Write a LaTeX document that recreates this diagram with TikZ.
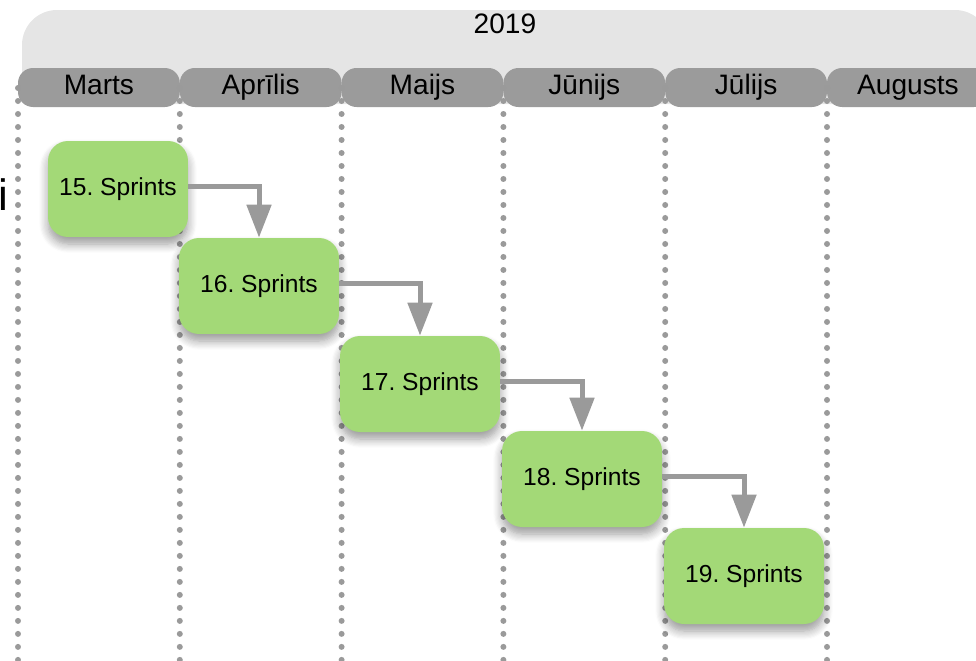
\documentclass[tikz,border=0pt]{standalone}
\usepackage{fontspec}
\setmainfont{Liberation Sans}
\usepackage{xcolor}
\usetikzlibrary{arrows.meta,shadows.blur}

\definecolor{hdrgray}{HTML}{E5E5E5}
\definecolor{pillgray}{HTML}{9B9B9B}
\definecolor{dotgray}{HTML}{9A9A9A}
\definecolor{sprintgreen}{HTML}{A3D977}
\frenchspacing

\tikzset{
  month/.style={fill=pillgray, rounded corners=0.3cm, minimum width=3.236cm,
    minimum height=0.78cm, inner sep=0pt, text height=11.5pt, text depth=3.5pt,
    font=\fontsize{16}{18}\selectfont},
  sprint/.style={fill=sprintgreen, rounded corners=0.4cm, minimum width=3.2cm,
    minimum height=1.92cm, inner sep=0pt, font=\fontsize{14}{16}\selectfont,
    blur shadow={shadow xshift=0pt, shadow yshift=-4pt, shadow blur radius=5pt,
      shadow blur steps=8, shadow opacity=40}},
  flow/.style={draw=dotgray, line width=0.1cm, -{Triangle[length=0.66cm,width=0.48cm]}},
  dots/.style={draw=dotgray, line width=0.12cm, line cap=round, dash pattern=on 0pt off 0.26cm}
}

\begin{document}
\begin{tikzpicture}[x=0.02cm, y=-0.02cm]
  \useasboundingbox (0,0) rectangle (976,660);
  % galva
  \fill[hdrgray, rounded corners=0.7cm] (22,10) rectangle (990,104);
  \node (gads) at (505,24) {\fontsize{16}{18}\selectfont 2019};
  % mēneši
  \foreach \i/\m in {0/Marts,1/Aprīlis,2/Maijs,3/Jūnijs,4/Jūlijs,5/Augusts}
    \node[month] (m\i) at (18+161.8*\i+80.9,87.5) {\m};
  \foreach \i in {0,...,5}
    \draw[dots] (18+161.8*\i,88) -- (18+161.8*\i,664);
  \node[anchor=base, inner sep=0pt] (burts) at (3,210) {\fontsize{25}{28}\selectfont i};
  % sprinti
  \node[sprint, minimum width=2.8cm] (s15) at (118,189) {15. Sprints};
  \node[sprint] (s16) at (259,286) {16. Sprints};
  \node[sprint] (s17) at (420,384) {17. Sprints};
  \node[sprint] (s18) at (582,479) {18. Sprints};
  \node[sprint] (s19) at (744,576) {19. Sprints};
  \foreach \a/\b in {s15/s16,s16/s17,s17/s18,s18/s19}
    \draw[flow] ([yshift=1.5pt]\a.east) -| (\b.north);
\end{tikzpicture}
\end{document}
